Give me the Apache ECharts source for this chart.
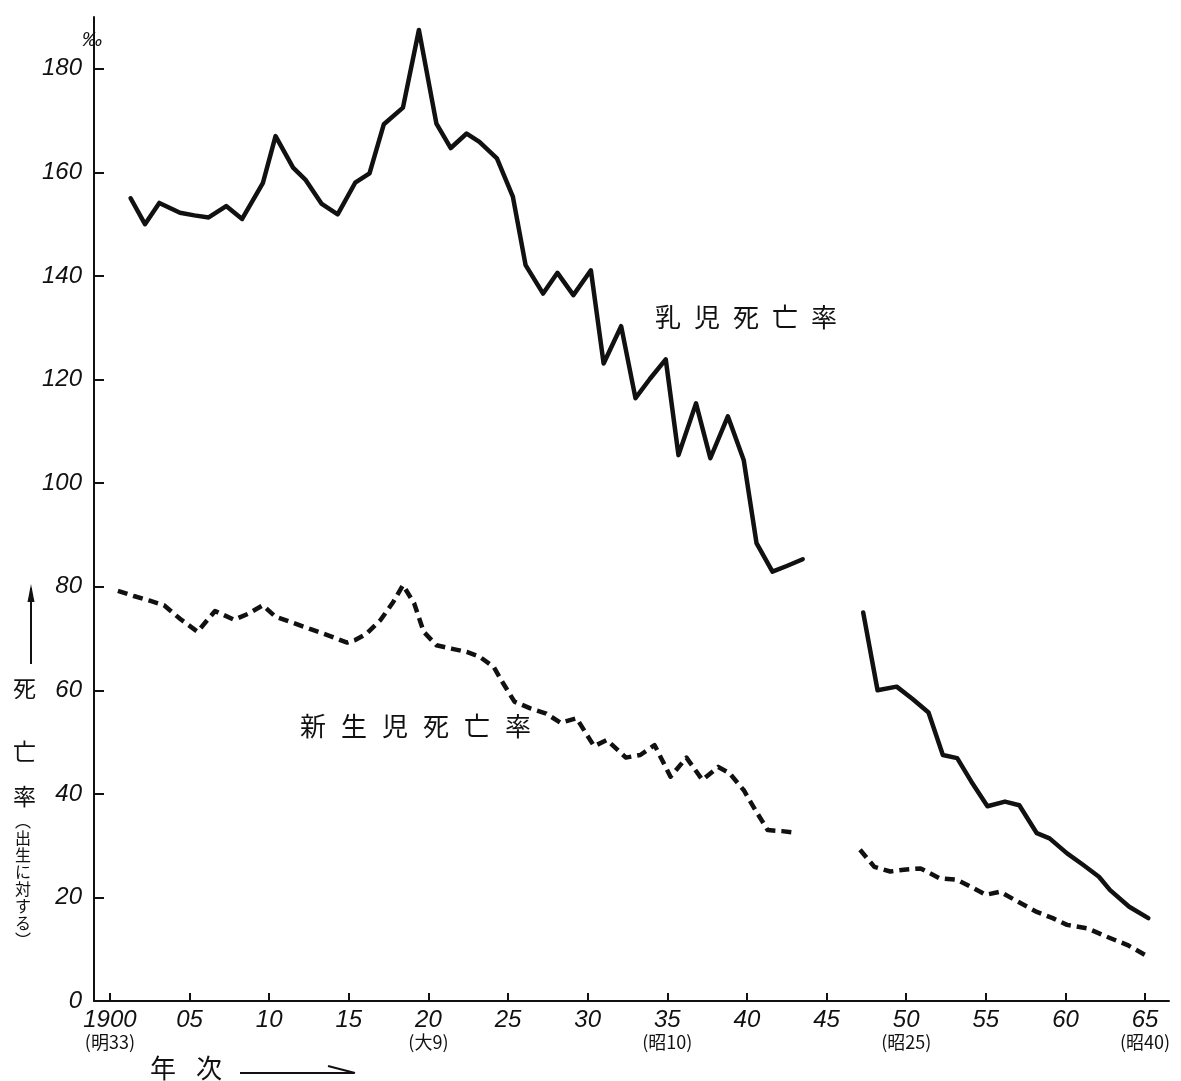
<!DOCTYPE html>
<html>
<head>
<meta charset="utf-8">
<script src="https://cdn.jsdelivr.net/npm/echarts@6/dist/echarts.min.js"></script>
<style>
html,body{margin:0;padding:0;background:#fff;}
#chart{width:1181px;height:1081px;}
</style>
</head>
<body>
<div id="chart"></div>
<script>
// ---- Data (x positions in years as plotted) ----
const tickYears = [1900,1905,1910,1915,1920,1925,1930,1935,1940,1945,1950,1955,1960,1965];
const tickLabels = ['1900','05','10','15','20','25','30','35','40','45','50','55','60','65'];
const eraYears  = [1900, 1920, 1935, 1950, 1965];
const eraLabels = ['(明33)', '(大9)', '(昭10)', '(昭25)', '(昭40)'];
const yTicks = [0,20,40,60,80,100,120,140,160,180];

// 乳児死亡率 (infant mortality) — pre-war segment
const infantPreX = [1901.3,1902.2,1903.1,1904.4,1905.3,1906.2,1907.3,1908.3,1909.6,1910.4,1911.5,1912.3,1913.3,1914.3,1915.4,1916.3,1917.2,1918.4,1919.4,1920.5,1921.4,1922.4,1923.2,1924.3,1925.3,1926.1,1927.2,1928.1,1929.1,1930.2,1931.0,1932.1,1933.0,1933.9,1934.9,1935.7,1936.8,1937.7,1938.8,1939.8,1940.6,1941.6,1942.5,1943.5];
const infantPreRate = [155.0,150.0,154.1,152.2,151.7,151.3,153.5,151.0,157.9,167.0,160.9,158.5,153.9,151.9,158.0,159.8,169.3,172.5,187.5,169.4,164.7,167.5,165.9,162.7,155.3,142.1,136.6,140.6,136.3,141.1,123.1,130.3,116.4,120.1,123.9,105.4,115.4,104.8,112.9,104.4,88.4,82.9,84.0,85.3];
// 乳児死亡率 — post-war segment
const infantPostX = [1947.3,1948.2,1949.4,1950.4,1951.4,1952.3,1953.2,1954.1,1955.1,1956.2,1957.1,1958.2,1959.0,1960.1,1961.1,1962.1,1962.8,1964.0,1965.2];
const infantPostRate = [75.0,60.0,60.7,58.3,55.7,47.5,46.9,42.3,37.6,38.5,37.8,32.4,31.4,28.5,26.3,24.0,21.4,18.2,16.0];

// 新生児死亡率 (neonatal mortality) — pre-war segment
const neoPreX = [1900.5,1901.5,1902.5,1903.4,1904.4,1905.5,1906.6,1907.8,1908.7,1909.6,1910.4,1911.5,1912.6,1913.7,1914.9,1915.4,1916.1,1917.0,1917.8,1918.4,1919.1,1919.7,1920.5,1921.5,1922.4,1923.2,1924.1,1924.7,1925.4,1926.4,1927.4,1928.3,1929.3,1930.4,1931.2,1932.4,1933.3,1934.2,1935.2,1936.2,1937.2,1938.2,1938.9,1939.8,1940.5,1941.3,1942.2,1943.1];
const neoPreRate = [79.2,78.2,77.3,76.4,73.8,71.3,75.3,73.6,74.8,76.4,74.2,73.0,71.8,70.6,69.2,69.7,70.9,73.6,77.1,80.3,76.8,71.3,68.7,68.0,67.4,66.5,64.5,61.3,57.8,56.5,55.5,53.7,54.6,49.2,50.4,47.0,47.5,49.4,43.3,47.0,42.7,45.2,44.0,40.7,37.0,33.0,32.8,32.5];
// 新生児死亡率 — post-war segment
const neoPostX = [1947.1,1948.0,1949.0,1950.0,1950.9,1952.1,1953.2,1954.1,1955.0,1955.9,1957.0,1958.2,1959.2,1960.1,1961.4,1962.6,1963.9,1965.0];
const neoPostRate = [29.2,25.9,25.0,25.4,25.6,23.7,23.4,22.0,20.5,21.1,19.2,17.2,16.0,14.7,14.0,12.4,10.8,8.9];

const infantLabel = '乳児死亡率';
const neoLabel = '新生児死亡率';

const zip = (xs, ys) => xs.map((x, i) => [x, ys[i]]);

const INK = '#111';
const solid = { color: INK, width: 4.5, type: 'solid', cap: 'round', join: 'round' };
const dashed = { color: INK, width: 4.5, type: [10, 6], cap: 'butt', join: 'round' };

// spaced-out caption: one text element per character
function spacedText(str, left, top, pitch, size) {
  return Array.from(str).map((ch, i) => ({
    type: 'text', left: left + i * pitch, top: top,
    style: { text: ch, font: size + 'px "Noto Sans CJK JP"', fill: INK }
  }));
}

const chart = echarts.init(document.getElementById('chart'), null, { renderer: 'canvas' });

const option = {
  backgroundColor: '#fff',
  animation: false,
  grid: { left: 94, right: 12, top: 17, bottom: 80 },
  xAxis: {
    type: 'value',
    min: 1899,
    max: 1966.5,
    splitLine: { show: false },
    axisLine: { show: true, onZero: false, lineStyle: { color: INK, width: 2 } },
    axisTick: { show: true, inside: true, length: 8, customValues: tickYears, lineStyle: { color: INK, width: 2 } },
    axisLabel: {
      customValues: tickYears,
      margin: 8,
      formatter: function (v) {
        const i = tickYears.indexOf(v);
        const main = i >= 0 ? tickLabels[i] : '';
        const j = eraYears.indexOf(v);
        return j >= 0 ? '{a|' + main + '}\n{b|' + eraLabels[j] + '}' : '{a|' + main + '}';
      },
      rich: {
        a: { fontFamily: 'Liberation Sans', fontStyle: 'italic', fontSize: 24, color: INK, lineHeight: 23 },
        b: { fontFamily: 'Noto Sans CJK JP', fontSize: 18, color: INK, lineHeight: 20 }
      },
      verticalAlign: 'top'
    }
  },
  yAxis: {
    type: 'value',
    min: 0,
    max: 190,
    splitLine: { show: false },
    axisLine: { show: true, lineStyle: { color: INK, width: 2 } },
    axisTick: { show: true, inside: true, length: 10, customValues: yTicks, lineStyle: { color: INK, width: 2 } },
    axisLabel: {
      customValues: yTicks,
      margin: 12,
      fontFamily: 'Liberation Sans', fontStyle: 'italic', fontSize: 24, color: INK
    }
  },
  series: [
    { name: infantLabel, type: 'line', data: zip(infantPreX, infantPreRate), showSymbol: false, lineStyle: solid, z: 3 },
    { name: infantLabel, type: 'line', data: zip(infantPostX, infantPostRate), showSymbol: false, lineStyle: solid, z: 3 },
    { name: neoLabel, type: 'line', data: zip(neoPreX, neoPreRate), showSymbol: false, lineStyle: dashed, z: 3 },
    { name: neoLabel, type: 'line', data: zip(neoPostX, neoPostRate), showSymbol: false, lineStyle: dashed, z: 3 }
  ],
  graphic: [
    // per-mille unit above the axis
    { type: 'text', left: 82, top: 30, style: { text: '‰', font: 'italic 20px "Liberation Sans"', fill: INK } },
    // series captions
    ...spacedText(infantLabel, 655, 304, 39, 26),
    ...spacedText(neoLabel, 300, 713, 41, 26),
    // vertical y-axis title
    { type: 'text', left: 13, top: 677, style: { text: '死', font: '23px "Noto Sans CJK JP"', fill: INK } },
    { type: 'text', left: 13, top: 740, style: { text: '亡', font: '23px "Noto Sans CJK JP"', fill: INK } },
    { type: 'text', left: 13, top: 785, style: { text: '率', font: '23px "Noto Sans CJK JP"', fill: INK } },
    { type: 'text', left: 15, top: 812, style: { text: '︵\n出\n生\nに\n対\nす\nる\n︶', font: '16px "Noto Sans CJK JP"', lineHeight: 17, fill: INK } },
    // up arrow over y title
    { type: 'polyline', shape: { points: [[31, 664], [31, 588]] }, style: { stroke: INK, lineWidth: 2, fill: null } },
    { type: 'polygon', shape: { points: [[31, 584], [27.5, 602], [34.5, 602]] }, style: { fill: INK } },
    // x-axis title
    { type: 'text', left: 150, top: 1055, style: { text: '年', font: '26px "Noto Sans CJK JP"', fill: INK } },
    { type: 'text', left: 196, top: 1055, style: { text: '次', font: '26px "Noto Sans CJK JP"', fill: INK } },
    { type: 'polyline', shape: { points: [[240, 1073], [354, 1073]] }, style: { stroke: INK, lineWidth: 2, fill: null } },
    { type: 'polyline', shape: { points: [[328, 1066], [355, 1073]] }, style: { stroke: INK, lineWidth: 2, fill: null } }
  ]
};
chart.setOption(option);
</script>
</body>
</html>
